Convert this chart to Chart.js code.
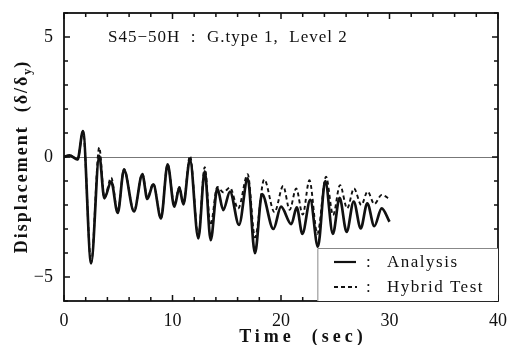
<!DOCTYPE html>
<html>
<head>
<meta charset="utf-8">
<script src="https://cdn.jsdelivr.net/npm/chart.js@4"></script>
<style>
  html, body { margin: 0; padding: 0; background: #fff; }
  #wrap { width: 519px; height: 345px; }
</style>
</head>
<body>
<div id="wrap"><canvas id="chart" width="519" height="345"></canvas></div>
<script>
// values (peaks and troughs, sec / delta/delta_y)
const analysisTime = [0, 0.5, 1.25, 1.75, 2.5, 3.25, 3.72, 4.35, 4.95, 5.53, 6.45, 7.22, 7.68, 8.23, 8.94, 9.55, 10.17, 10.63, 11.0, 11.61, 12.38, 12.97, 13.52, 14.13, 14.68, 15.3, 16.13, 16.93, 17.6, 18.25, 19.3, 20.0, 20.95, 21.45, 21.97, 22.7, 23.4, 24.08, 24.78, 25.4, 26.05, 26.7, 27.35, 27.95, 28.6, 29.28, 30.0];
const analysisDisp = [0, 0.07, -0.1, 1.08, -4.43, 0.05, -1.72, -1.03, -2.33, -0.54, -2.27, -0.72, -1.75, -1.14, -2.56, -0.31, -2.07, -1.28, -1.97, -0.1, -3.39, -0.6, -3.46, -1.31, -2.21, -1.44, -2.83, -0.89, -4.01, -1.55, -3.0, -2.07, -2.8, -2.1, -3.2, -1.79, -3.74, -1.0, -3.2, -1.7, -3.12, -1.86, -2.97, -1.93, -2.88, -2.14, -2.7];

const hybridTime = [0, 0.5, 1.25, 1.75, 2.5, 3.25, 3.72, 4.35, 4.95, 5.53, 6.45, 7.22, 7.68, 8.23, 8.94, 9.55, 10.17, 10.63, 11.0, 11.61, 12.38, 12.97, 13.5, 14.13, 14.68, 15.3, 16.05, 16.93, 17.6, 18.45, 19.4, 20.2, 20.8, 21.4, 22.0, 22.62, 23.35, 24.15, 24.8, 25.44, 26.1, 26.73, 27.4, 27.98, 28.6, 29.28, 30.0];
const hybridDisp = [0, 0.07, -0.1, 1.08, -4.4, 0.4, -1.7, -0.86, -2.3, -0.5, -2.25, -0.7, -1.7, -1.1, -2.55, -0.3, -2.0, -1.25, -1.95, 0.05, -3.3, -0.42, -2.85, -1.25, -1.47, -1.28, -2.15, -0.72, -3.35, -0.94, -2.3, -1.21, -2.2, -1.31, -2.4, -0.97, -3.2, -0.82, -2.42, -1.17, -2.14, -1.31, -2.0, -1.44, -1.96, -1.58, -1.75];

const xTicks = [0, 10, 20, 30, 40];
const yTicks = [-5, 0, 5];
const xMinorStep = 2;
const yMinorStep = 1;

const titleText = 'S45\u221250H  :  G.type 1,  Level 2';
const legendLabels = ['Analysis', 'Hybrid Test'];

const serif = '"Liberation Serif", "DejaVu Serif", serif';

function pairs(xs, ys) {
  return xs.map((x, i) => ({ x: x, y: ys[i] }));
}

// frame, inward ticks, zero line, title, axis titles, legend box
const decorations = {
  id: 'decorations',
  beforeDatasetsDraw(chart) {
    const { ctx, chartArea: a, scales: { x, y } } = chart;
    ctx.save();
    ctx.strokeStyle = '#777';
    ctx.lineWidth = 1;
    const y0 = Math.round(y.getPixelForValue(0)) + 0.5;
    ctx.beginPath();
    ctx.moveTo(a.left, y0);
    ctx.lineTo(a.right, y0);
    ctx.stroke();
    ctx.restore();
  },
  afterDatasetsDraw(chart) {
    const { ctx, chartArea: a, scales: { x, y } } = chart;
    ctx.save();
    ctx.strokeStyle = '#111';
    ctx.lineWidth = 1.5;

    // ticks on all four sides, pointing inward
    ctx.beginPath();
    for (let v = x.min; v <= x.max + 1e-9; v += xMinorStep) {
      const px = x.getPixelForValue(v);
      const len = (v % 10 === 0) ? 6 : 4;
      ctx.moveTo(px, a.bottom); ctx.lineTo(px, a.bottom - len);
      ctx.moveTo(px, a.top); ctx.lineTo(px, a.top + len);
    }
    for (let v = Math.ceil(y.min); v <= y.max + 1e-9; v += yMinorStep) {
      const py = y.getPixelForValue(v);
      const len = (v % 5 === 0) ? 6 : 4;
      ctx.moveTo(a.left, py); ctx.lineTo(a.left + len, py);
      ctx.moveTo(a.right, py); ctx.lineTo(a.right - len, py);
    }
    ctx.stroke();

    ctx.lineWidth = 1.8;
    ctx.strokeRect(a.left, a.top, a.right - a.left, a.bottom - a.top);

    // title inside the plot
    ctx.fillStyle = '#111';
    ctx.font = '17px ' + serif;
    ctx.textBaseline = 'alphabetic';
    ctx.textAlign = 'left';
    ctx.letterSpacing = '1px';
    ctx.fillText(titleText, 108, 42);

    // legend box, lower right
    const lx = x.getPixelForValue(23.35), ly = 248;
    ctx.fillStyle = '#fff';
    ctx.fillRect(lx, ly, a.right - lx, a.bottom - ly);
    ctx.strokeStyle = '#888';
    ctx.lineWidth = 1;
    ctx.beginPath();
    ctx.moveTo(lx + 0.5, a.bottom);
    ctx.lineTo(lx + 0.5, ly + 0.5);
    ctx.lineTo(a.right, ly + 0.5);
    ctx.stroke();

    ctx.strokeStyle = '#111';
    ctx.lineWidth = 2.2;
    ctx.beginPath();
    ctx.moveTo(334, 262); ctx.lineTo(356, 262);
    ctx.stroke();
    ctx.lineWidth = 1.8;
    ctx.setLineDash([4, 3]);
    ctx.beginPath();
    ctx.moveTo(334, 287); ctx.lineTo(357, 287);
    ctx.stroke();
    ctx.setLineDash([]);

    ctx.fillStyle = '#111';
    ctx.font = '17px ' + serif;
    ctx.letterSpacing = '1.5px';
    ctx.fillText(':', 366, 267);
    ctx.fillText(':', 366, 292);
    ctx.fillText(legendLabels[0], 387, 267);
    ctx.fillText(legendLabels[1], 387, 292);

    // axis titles
    ctx.font = 'bold 18px ' + serif;
    ctx.letterSpacing = '4px';
    ctx.textAlign = 'center';
    ctx.fillText('Time  (sec)', 303, 342);

    ctx.save();
    ctx.translate(27, 158);
    ctx.rotate(-Math.PI / 2);
    ctx.textAlign = 'left';
    ctx.font = 'bold 18px ' + serif;
    ctx.letterSpacing = '2px';
    const main = 'Displacement  (\u03b4/\u03b4';
    const w1 = ctx.measureText(main).width;
    ctx.font = 'bold 12px ' + serif;
    ctx.letterSpacing = '0px';
    const w2 = ctx.measureText('y').width;
    ctx.font = 'bold 18px ' + serif;
    const w3 = ctx.measureText(')').width;
    const start = -(w1 + w2 + w3) / 2;
    ctx.letterSpacing = '2px';
    ctx.fillText(main, start, 0);
    ctx.font = 'bold 12px ' + serif;
    ctx.letterSpacing = '0px';
    ctx.fillText('y', start + w1, 4);
    ctx.font = 'bold 18px ' + serif;
    ctx.fillText(')', start + w1 + w2 + 1, 0);
    ctx.restore();

    ctx.restore();
  }
};

new Chart(document.getElementById('chart'), {
  type: 'line',
  data: {
    datasets: [
      {
        label: legendLabels[0],
        data: pairs(analysisTime, analysisDisp),
        borderColor: '#111',
        borderWidth: 2.7,
        pointRadius: 0,
        cubicInterpolationMode: 'monotone',
        fill: false
      },
      {
        label: legendLabels[1],
        data: pairs(hybridTime, hybridDisp),
        borderColor: '#111',
        borderWidth: 1.9,
        borderDash: [4, 3],
        pointRadius: 0,
        cubicInterpolationMode: 'monotone',
        fill: false
      }
    ]
  },
  options: {
    responsive: false,
    animation: false,
    layout: { padding: { top: 13, right: 21, left: 0, bottom: 0 } },
    plugins: { legend: { display: false }, tooltip: { enabled: false } },
    scales: {
      x: {
        type: 'linear',
        min: 0,
        max: 40,
        afterBuildTicks: s => { s.ticks = xTicks.map(v => ({ value: v })); },
        afterFit: s => { s.height = 44; s.paddingLeft = 0; s.paddingRight = 0; },
        grid: { display: false, drawTicks: false },
        border: { display: false },
        ticks: {
          color: '#111',
          padding: 9,
          maxRotation: 0,
          font: { family: serif, size: 18 }
        }
      },
      y: {
        type: 'linear',
        min: -6,
        max: 6,
        afterBuildTicks: s => { s.ticks = yTicks.map(v => ({ value: v })); },
        afterFit: s => { s.width = 64; s.paddingTop = 0; s.paddingBottom = 0; },
        grid: { display: false, drawTicks: false },
        border: { display: false },
        ticks: {
          color: '#111',
          padding: 11,
          font: { family: serif, size: 18 },
          callback: v => (v < 0 ? '\u2212' + Math.abs(v) : String(v))
        }
      }
    }
  },
  plugins: [decorations]
});
</script>
</body>
</html>
